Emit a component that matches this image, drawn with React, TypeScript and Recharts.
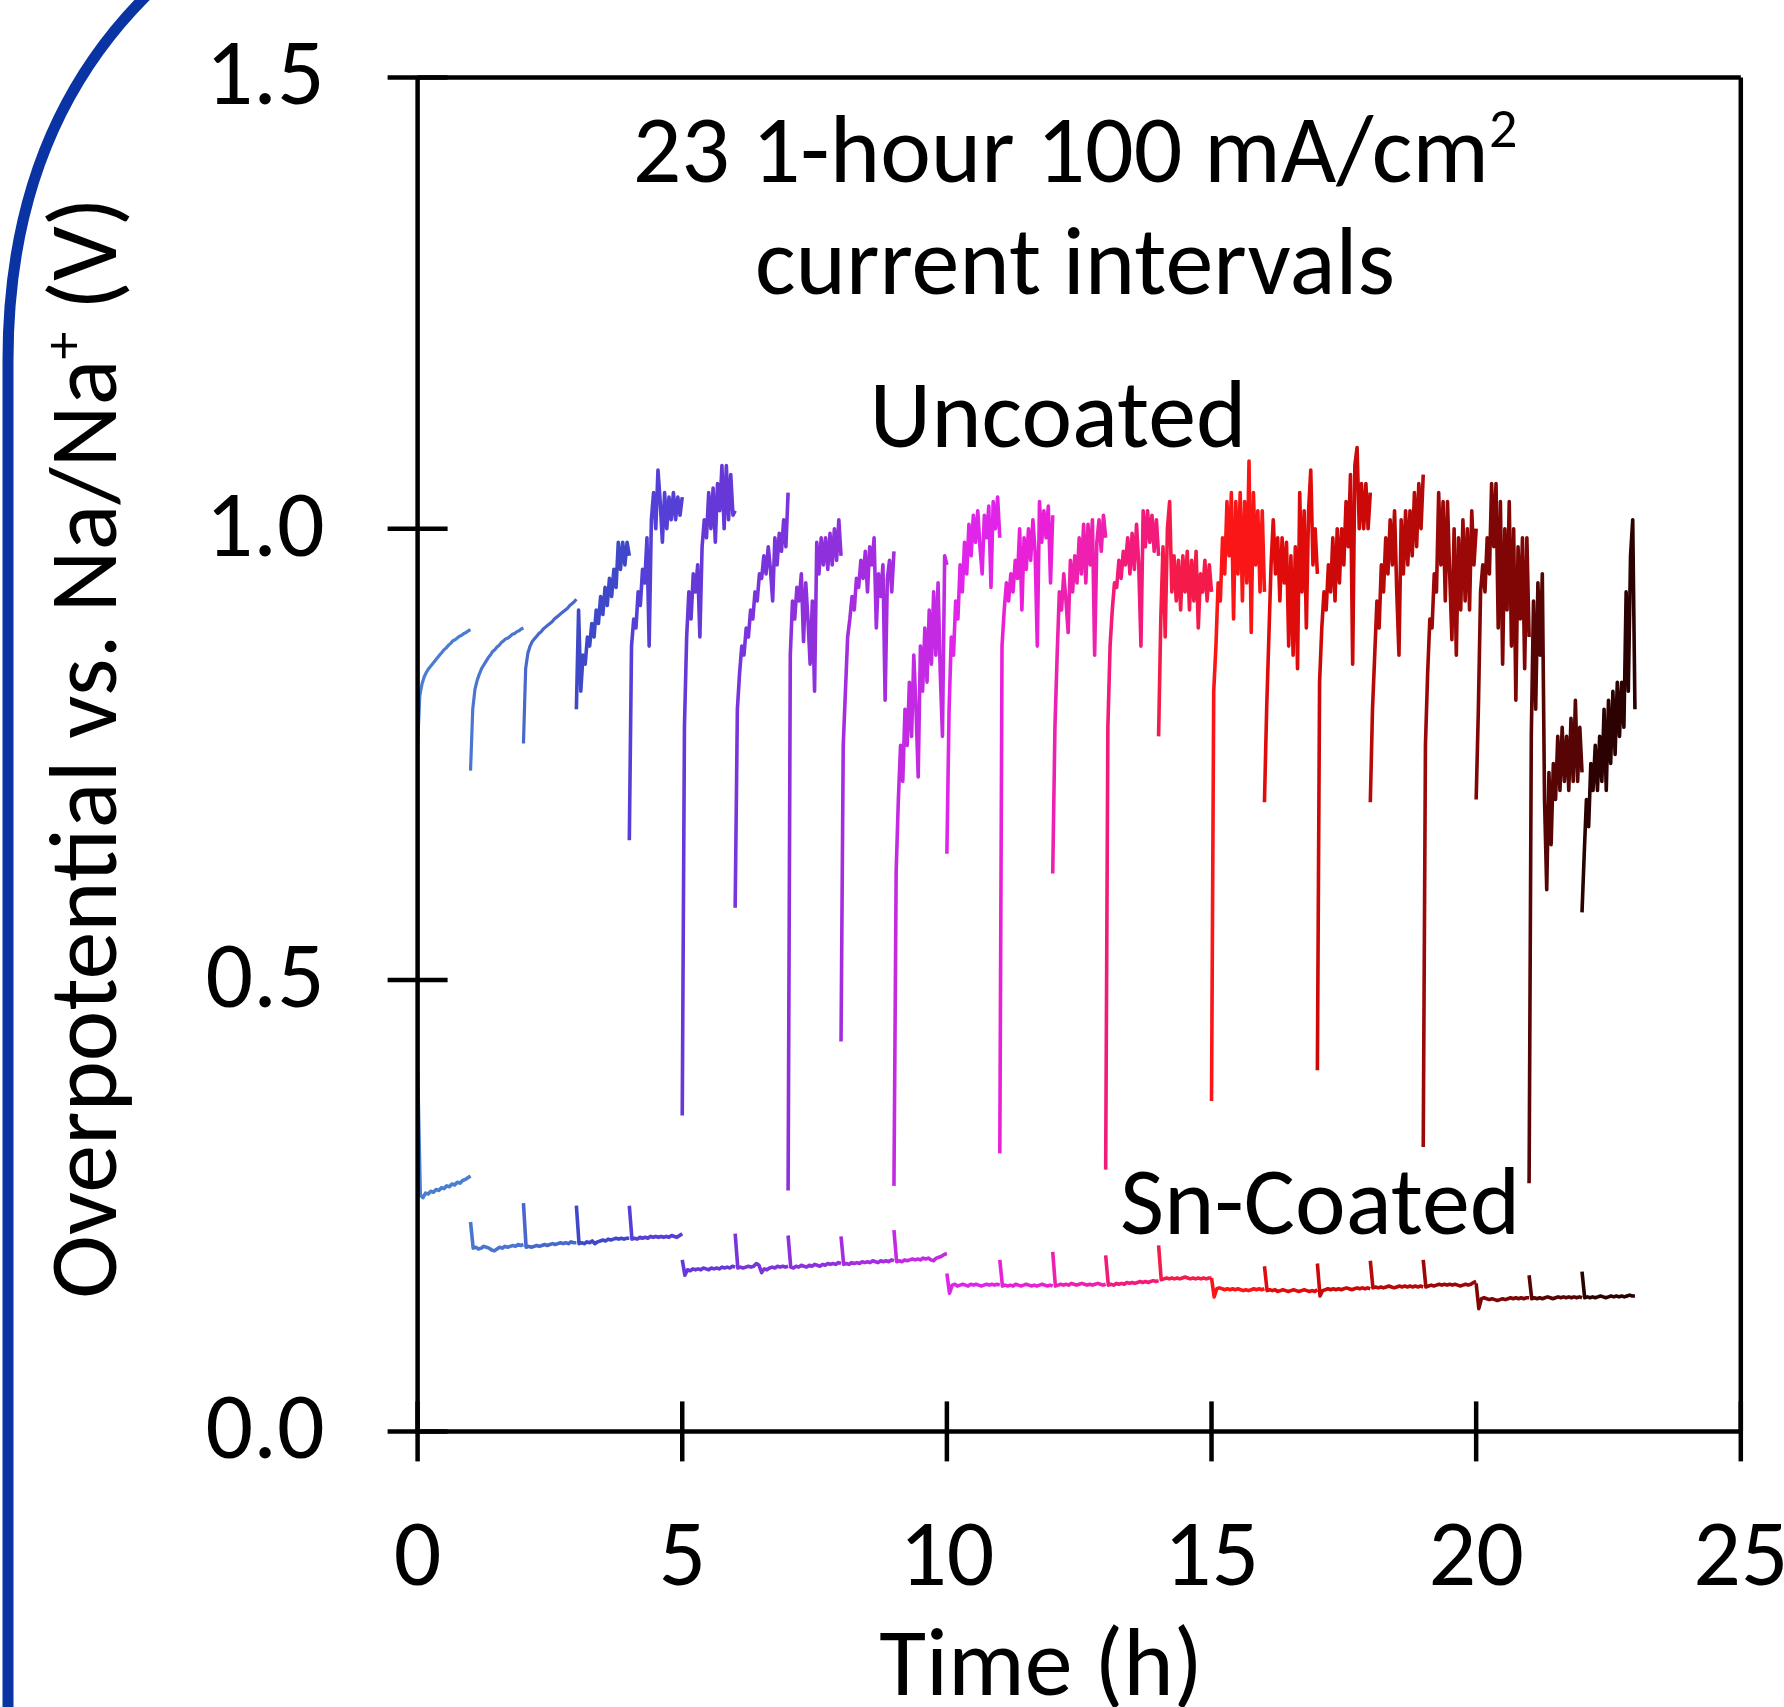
import React from 'react';
import { ComposedChart, Line, XAxis, YAxis, ReferenceLine } from 'recharts';

const FONT = "Carlito, Lato, 'Open Sans', sans-serif";

const hourColors = [
  '#4a7ed0', '#4a76d0', '#4868cc', '#3f48c8', '#5440d6', '#6638d8', '#7a34dc', '#8e30dc',
  '#a42de0', '#c42ae4', '#e024ea', '#ea20d8', '#ee20b0', '#f21a7a', '#f41a4a', '#fa1616',
  '#e00c0c', '#cc0808', '#b80909', '#9c0707', '#800606', '#560404', '#2c0101',
];

// Uncoated cell: each hour starts with the dip at the interval start, then values across the hour
const uncoatedHours: number[][] = [
  [0.76, 0.815, 0.828, 0.836, 0.841, 0.845, 0.848, 0.851, 0.854, 0.857, 0.86, 0.863, 0.866, 0.868, 0.871, 0.873, 0.876, 0.877, 0.879, 0.881, 0.882, 0.884, 0.885, 0.887, 0.888],
  [0.732, 0.8, 0.822, 0.832, 0.839, 0.845, 0.849, 0.853, 0.857, 0.86, 0.864, 0.866, 0.869, 0.871, 0.874, 0.876, 0.878, 0.879, 0.881, 0.883, 0.884, 0.886, 0.887, 0.889, 0.89],
  [0.762, 0.845, 0.862, 0.87, 0.875, 0.878, 0.881, 0.884, 0.886, 0.889, 0.891, 0.893, 0.895, 0.897, 0.9, 0.902, 0.904, 0.906, 0.908, 0.91, 0.912, 0.915, 0.917, 0.919, 0.922],
  [0.8, 0.91, 0.82, 0.86, 0.85, 0.88, 0.87, 0.895, 0.88, 0.91, 0.895, 0.925, 0.905, 0.935, 0.915, 0.945, 0.925, 0.955, 0.935, 0.985, 0.955, 0.985, 0.96, 0.985, 0.97],
  [0.655, 0.87, 0.9, 0.89, 0.93, 0.915, 0.955, 0.94, 0.99, 0.87, 1.01, 1.04, 1.0, 1.065, 1.03, 0.985, 1.04, 1.0, 1.035, 1.01, 1.04, 1.01, 1.035, 1.015, 1.035],
  [0.35, 0.78, 0.88, 0.93, 0.9, 0.95, 0.93, 0.96, 0.88, 0.98, 1.01, 0.99, 1.04, 1.0, 1.045, 0.985, 1.05, 1.02, 1.07, 1.0, 1.07, 1.01, 1.06, 1.015, 1.02],
  [0.58, 0.8, 0.84, 0.87, 0.86, 0.89, 0.88, 0.91, 0.9, 0.93, 0.92, 0.95, 0.945, 0.97, 0.95, 0.98, 0.955, 0.92, 0.99, 0.96, 0.995, 0.975, 1.01, 0.98, 1.04],
  [0.267, 0.86, 0.92, 0.9, 0.935, 0.92, 0.95, 0.875, 0.94, 0.9, 0.85, 0.92, 0.82, 0.985, 0.95, 0.99, 0.96, 0.99, 0.955, 0.995, 0.96, 1.0, 0.965, 1.01, 0.97],
  [0.432, 0.76, 0.82, 0.88, 0.9, 0.925, 0.91, 0.945, 0.935, 0.965, 0.945, 0.975, 0.93, 0.98, 0.96, 0.99, 0.89, 0.95, 0.925, 0.96, 0.81, 0.945, 0.965, 0.93, 0.975],
  [0.272, 0.62, 0.7, 0.76, 0.72, 0.8, 0.76, 0.83, 0.77, 0.86, 0.8, 0.725, 0.87, 0.82, 0.89, 0.83, 0.91, 0.85, 0.93, 0.86, 0.94, 0.84, 0.77, 0.97, 0.96],
  [0.64, 0.8, 0.88, 0.86, 0.92, 0.9, 0.96, 0.93, 0.985, 0.95, 1.005, 0.97, 1.015, 0.985, 1.02, 0.98, 0.95, 1.015, 0.99, 1.025, 0.935, 1.03, 1.0, 1.035, 0.99],
  [0.308, 0.87, 0.91, 0.94, 0.92, 0.95, 0.93, 0.965, 0.945, 1.0, 0.91, 0.99, 0.955, 1.0, 0.965, 1.01, 0.975, 0.87, 1.03, 0.985, 1.02, 0.99, 1.025, 0.94, 1.015],
  [0.618, 0.78, 0.86, 0.93, 0.91, 0.95, 0.92, 0.885, 0.965, 0.93, 0.97, 0.94, 0.99, 0.95, 1.005, 0.94, 1.005, 0.96, 1.01, 0.86, 0.985, 1.01, 0.975, 1.015, 0.99],
  [0.29, 0.78, 0.87, 0.91, 0.94, 0.935, 0.965, 0.945, 0.975, 0.96, 0.99, 0.95, 0.995, 0.955, 1.005, 0.96, 0.87, 1.02, 0.98, 1.02, 0.985, 1.015, 0.975, 1.01, 0.97],
  [0.77, 0.9, 0.98, 0.88, 1.0, 1.03, 0.93, 0.97, 0.92, 0.965, 0.91, 0.97, 0.93, 0.975, 0.91, 0.965, 0.92, 0.975, 0.89, 0.95, 0.93, 0.965, 0.92, 0.96, 0.93],
  [0.366, 0.82, 0.87, 0.94, 0.92, 0.99, 0.95, 1.03, 0.97, 1.04, 0.9, 1.03, 0.95, 1.04, 0.92, 1.03, 0.94, 1.075, 0.885, 1.04, 0.96, 1.02, 0.93, 1.02, 0.93],
  [0.697, 0.8, 0.88, 0.96, 1.01, 0.95, 0.99, 0.92, 0.99, 0.94, 0.985, 0.87, 0.97, 0.86, 0.98, 0.845, 1.04, 0.93, 1.02, 0.89, 1.02, 1.065, 0.96, 1.0, 0.95],
  [0.4, 0.83, 0.89, 0.93, 0.91, 0.96, 0.93, 0.99, 0.92, 1.0, 0.94, 1.0, 0.96, 1.03, 0.98, 1.06, 0.85, 1.07, 1.09, 1.0, 1.05, 1.0, 1.05, 1.0, 1.04],
  [0.697, 0.8, 0.86, 0.92, 0.89, 0.96, 0.93, 0.99, 0.95, 1.01, 0.96, 1.02, 0.93, 0.86, 1.01, 0.95, 1.02, 0.96, 1.02, 0.97, 1.04, 0.98, 1.05, 1.0, 1.06],
  [0.315, 0.76, 0.84, 0.9, 0.89, 0.95, 0.93, 1.04, 0.96, 1.03, 0.92, 1.03, 0.95, 0.877, 1.0, 0.86, 0.99, 0.91, 1.01, 0.92, 1.0, 0.91, 1.02, 0.96, 1.0],
  [0.7, 0.8, 0.93, 0.96, 0.93, 0.99, 0.95, 1.05, 0.98, 1.05, 0.89, 1.03, 0.85, 1.0, 0.91, 1.03, 0.87, 1.0, 0.81, 0.98, 0.9, 0.99, 0.845, 0.99, 0.88],
  [0.275, 0.77, 0.92, 0.8, 0.94, 0.86, 0.95, 0.7, 0.6, 0.73, 0.65, 0.74, 0.7, 0.77, 0.71, 0.78, 0.72, 0.77, 0.71, 0.79, 0.72, 0.81, 0.72, 0.78, 0.73],
  [0.575, 0.64, 0.7, 0.67, 0.74, 0.71, 0.76, 0.71, 0.77, 0.72, 0.8, 0.71, 0.81, 0.74, 0.82, 0.75, 0.83, 0.77, 0.83, 0.78, 0.93, 0.82, 0.97, 1.01, 0.8],
];

// Sn-coated cell: each hour starts with its spike / step value, then the level across the hour
const snHours: number[][] = [
  [0.4, 0.262, 0.259, 0.264, 0.263, 0.266, 0.265, 0.268, 0.267, 0.27, 0.269, 0.272, 0.271, 0.274, 0.273, 0.276, 0.275, 0.278, 0.279, 0.281, 0.283],
  [0.232, 0.203, 0.204, 0.202, 0.203, 0.205, 0.204, 0.203, 0.201, 0.2, 0.202, 0.204, 0.203, 0.205, 0.204, 0.205, 0.206, 0.205, 0.207, 0.206, 0.207],
  [0.253, 0.204, 0.205, 0.204, 0.205, 0.206, 0.205, 0.206, 0.207, 0.206, 0.207, 0.208, 0.207, 0.208, 0.209, 0.208, 0.209, 0.208, 0.21, 0.209, 0.209],
  [0.25, 0.208, 0.209, 0.208, 0.21, 0.209, 0.211, 0.208, 0.21, 0.211, 0.212, 0.211, 0.213, 0.212, 0.213, 0.214, 0.213, 0.214, 0.213, 0.214, 0.214],
  [0.25, 0.213, 0.214, 0.213, 0.215, 0.214, 0.215, 0.214, 0.216, 0.215, 0.216, 0.215, 0.216, 0.215, 0.216, 0.215, 0.217, 0.216, 0.215, 0.217, 0.219],
  [0.19, 0.173, 0.179, 0.178, 0.18, 0.179, 0.18, 0.179, 0.181, 0.18, 0.179, 0.181, 0.18, 0.181, 0.18, 0.182, 0.181, 0.182, 0.181, 0.183, 0.182],
  [0.219, 0.181, 0.182, 0.181, 0.182, 0.183, 0.182, 0.183, 0.186, 0.184, 0.176, 0.18, 0.179, 0.181, 0.182, 0.181, 0.183, 0.182, 0.183, 0.182, 0.183],
  [0.217, 0.182, 0.181, 0.183, 0.182, 0.184, 0.183, 0.182, 0.184, 0.183, 0.185, 0.184, 0.183, 0.185, 0.184, 0.186, 0.185, 0.186, 0.185, 0.187, 0.186],
  [0.216, 0.185, 0.186, 0.185, 0.187, 0.186, 0.187, 0.186, 0.188, 0.187, 0.188, 0.187, 0.189, 0.188, 0.187, 0.189, 0.188, 0.189, 0.188, 0.19, 0.189],
  [0.223, 0.188, 0.189, 0.188, 0.19, 0.189, 0.19, 0.191, 0.19, 0.191, 0.19, 0.192, 0.191, 0.192, 0.19, 0.189, 0.192, 0.193, 0.194, 0.196, 0.197],
  [0.175, 0.153, 0.162, 0.163, 0.161, 0.162, 0.163, 0.162, 0.161, 0.163, 0.162, 0.163, 0.162, 0.161, 0.162, 0.163, 0.162, 0.163, 0.162, 0.163, 0.162],
  [0.19, 0.161, 0.162, 0.161, 0.162, 0.161, 0.163, 0.162, 0.161, 0.162, 0.163, 0.162, 0.161, 0.162, 0.161, 0.162, 0.163, 0.162, 0.161, 0.162, 0.161],
  [0.199, 0.161, 0.162, 0.163, 0.162, 0.163, 0.162, 0.164, 0.163, 0.162, 0.163, 0.164, 0.163, 0.162, 0.163, 0.162, 0.163, 0.164, 0.163, 0.162, 0.163],
  [0.195, 0.162, 0.163, 0.162, 0.164, 0.163, 0.164, 0.163, 0.165, 0.164, 0.165, 0.164, 0.165, 0.166, 0.165, 0.166, 0.165, 0.166, 0.167, 0.166, 0.167],
  [0.206, 0.168, 0.169, 0.17, 0.169, 0.17, 0.169, 0.17, 0.169, 0.17, 0.171, 0.17, 0.169, 0.17, 0.169, 0.17, 0.169, 0.17, 0.169, 0.17, 0.17],
  [0.17, 0.149, 0.158, 0.159, 0.158, 0.157, 0.158, 0.157, 0.158, 0.157, 0.158, 0.157, 0.156, 0.157, 0.156, 0.157, 0.158, 0.157, 0.158, 0.157, 0.158],
  [0.183, 0.156, 0.157, 0.156, 0.157, 0.155, 0.156, 0.157, 0.156, 0.155, 0.156, 0.157, 0.156, 0.155, 0.156, 0.157, 0.156, 0.155, 0.156, 0.155, 0.157],
  [0.186, 0.15, 0.156, 0.157, 0.158, 0.157, 0.158, 0.157, 0.158, 0.157, 0.158, 0.159, 0.158, 0.157, 0.158, 0.159, 0.158, 0.159, 0.158, 0.159, 0.158],
  [0.189, 0.159, 0.16, 0.159, 0.16, 0.159, 0.16, 0.161, 0.16, 0.159, 0.16, 0.161, 0.16, 0.161, 0.16, 0.161, 0.16, 0.161, 0.16, 0.161, 0.16],
  [0.19, 0.16, 0.161, 0.162, 0.161, 0.162, 0.163, 0.162, 0.163, 0.162, 0.163, 0.162, 0.163, 0.162, 0.161, 0.162, 0.163, 0.162, 0.163, 0.165, 0.166],
  [0.164, 0.136, 0.147, 0.148, 0.147, 0.146, 0.147, 0.146, 0.145, 0.146, 0.147, 0.146, 0.147, 0.148, 0.147, 0.148, 0.147, 0.148, 0.147, 0.148, 0.148],
  [0.173, 0.147, 0.148, 0.147, 0.148, 0.147, 0.148, 0.149, 0.148, 0.147, 0.148, 0.149, 0.148, 0.149, 0.148, 0.149, 0.148, 0.149, 0.148, 0.149, 0.148],
  [0.177, 0.148, 0.149, 0.148, 0.149, 0.148, 0.149, 0.15, 0.149, 0.148, 0.149, 0.15, 0.149, 0.15, 0.149, 0.15, 0.149, 0.15, 0.151, 0.15, 0.15],
];

const xTicks = [0, 5, 10, 15, 20, 25];
const xTickLabels = ['0', '5', '10', '15', '20', '25'];
const yTicks = [0, 0.5, 1.0, 1.5];
const yTickLabels = ['0.0', '0.5', '1.0', '1.5'];

const titleLine1 = '23 1-hour 100 mA/cm';
const titleSup = '2';
const titleLine2 = 'current intervals';
const uncoatedLabel = 'Uncoated';
const coatedLabel = 'Sn-Coated';
const xTitle = 'Time (h)';
const yTitleMain = 'Overpotential vs. Na/Na';
const yTitleSup = '+';
const yTitleEnd = ' (V)';

function buildSegment(hour: number, vals: number[]) {
  const n = vals.length - 1;
  return vals.map((v, i) => ({ t: hour + i / n, v }));
}

const W = 1784;
const H = 1707;
const AXIS_W = 4.5;
const TICK_FS = 94;
const TEXT_FS = 96;

const YTick = (props: any) => {
  const { x, y, payload } = props;
  const idx = yTicks.indexOf(payload.value);
  return (
    <g>
      <line x1={x - 30} x2={x + 30} y1={y} y2={y} stroke="#000" strokeWidth={AXIS_W} />
      <text x={x - 93} y={y + 27} textAnchor="end" fontSize={TICK_FS} fontFamily={FONT} fill="#000">
        {yTickLabels[idx]}
      </text>
    </g>
  );
};

const XTick = (props: any) => {
  const { x, y, payload } = props;
  const idx = xTicks.indexOf(payload.value);
  return (
    <g>
      <line x1={x} x2={x} y1={y - 30} y2={y + 30} stroke="#000" strokeWidth={AXIS_W} />
      <text x={x} y={y + 154} textAnchor="middle" fontSize={TICK_FS} fontFamily={FONT} fill="#000">
        {xTickLabels[idx]}
      </text>
    </g>
  );
};

export default function App() {
  return (
    <div style={{ position: 'absolute', left: 0, top: 0, width: W, height: H, background: '#fff', overflow: 'hidden' }}>
      <ComposedChart
        width={W}
        height={H}
        margin={{ top: 77.4, right: 43.2, bottom: 175.6, left: 317.6 }}
      >
        <XAxis
          type="number"
          dataKey="t"
          domain={[0, 25]}
          ticks={xTicks}
          interval={0}
          allowDataOverflow
          height={100}
          tickSize={0}
          tickMargin={0}
          tick={<XTick />}
          axisLine={{ stroke: '#000', strokeWidth: AXIS_W }}
          tickLine={false}
        />
        <YAxis
          type="number"
          dataKey="v"
          domain={[0, 1.5]}
          ticks={yTicks}
          interval={0}
          allowDataOverflow
          width={100}
          tickSize={0}
          tickMargin={0}
          tick={<YTick />}
          axisLine={{ stroke: '#000', strokeWidth: AXIS_W }}
          tickLine={false}
        />
        <ReferenceLine y={1.5} stroke="#000" strokeWidth={AXIS_W} ifOverflow="visible" />
        <ReferenceLine x={25} stroke="#000" strokeWidth={AXIS_W} ifOverflow="visible" />
        {snHours.map((vals, h) => (
          <Line
            key={'sn' + h}
            data={buildSegment(h, vals)}
            dataKey="v"
            type="linear"
            stroke={hourColors[h]}
            strokeWidth={3.6}
            strokeLinejoin="round"
            dot={false}
            activeDot={false}
            isAnimationActive={false}
          />
        ))}
        {uncoatedHours.map((vals, h) => (
          <Line
            key={'un' + h}
            data={buildSegment(h, vals)}
            dataKey="v"
            type="linear"
            stroke={hourColors[h]}
            strokeWidth={h < 3 ? 3.2 : 3.6}
            strokeLinejoin="round"
            dot={false}
            activeDot={false}
            isAnimationActive={false}
          />
        ))}
      </ComposedChart>
      <svg
        width={W}
        height={H}
        style={{ position: 'absolute', left: 0, top: 0, pointerEvents: 'none' }}
      >
        <path d="M 8 1720 L 8 360 C 8 200, 60 80, 150 -8" fill="none" stroke="#0a33a3" strokeWidth={11} />
        <g fontFamily={FONT} fill="#000">
          <text x={1075} y={182} textAnchor="middle" fontSize={TEXT_FS}>
            {titleLine1}
            <tspan dy={-35} fontSize={56}>{titleSup}</tspan>
          </text>
          <text x={1075} y={294} textAnchor="middle" fontSize={TEXT_FS}>{titleLine2}</text>
          <text x={1058} y={447} textAnchor="middle" fontSize={TEXT_FS}>{uncoatedLabel}</text>
          <text x={1320} y={1234} textAnchor="middle" fontSize={TEXT_FS}>{coatedLabel}</text>
          <text x={1041} y={1695} textAnchor="middle" fontSize={TEXT_FS}>{xTitle}</text>
          <text transform="translate(116 748) rotate(-90)" x={0} y={0} textAnchor="middle" fontSize={TEXT_FS}>
            {yTitleMain}
            <tspan dy={-34} fontSize={56}>{yTitleSup}</tspan>
            <tspan dy={34}>{yTitleEnd}</tspan>
          </text>
        </g>
      </svg>
    </div>
  );
}
